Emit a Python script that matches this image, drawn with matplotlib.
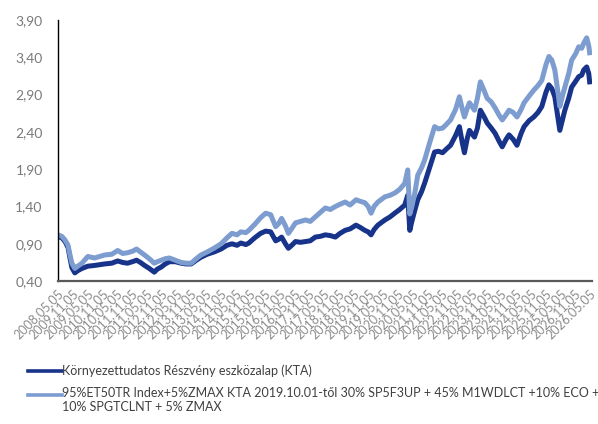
import matplotlib.pyplot as plt
from matplotlib.lines import Line2D

plt.rcParams["font.family"] = ["Lato", "DejaVu Sans"]

# decimal year of each reading, fund (dark) and benchmark (light)
years = [
    2008.34, 2008.47, 2008.58, 2008.68, 2008.74, 2008.81, 2008.91, 2009.01, 2009.15, 2009.35,
    2009.58, 2009.92, 2010.16, 2010.36, 2010.53, 2010.69, 2010.86, 2011.00, 2011.13, 2011.27,
    2011.43, 2011.60, 2011.70, 2011.84, 2011.97, 2012.11, 2012.31, 2012.51, 2012.68, 2012.85,
    2013.02, 2013.18, 2013.39, 2013.62, 2013.86, 2014.06, 2014.23, 2014.40, 2014.53, 2014.70,
    2014.80, 2015.00, 2015.20, 2015.37, 2015.54, 2015.71, 2015.81, 2015.91, 2016.04, 2016.14,
    2016.28, 2016.38, 2016.55, 2016.72, 2016.88, 2017.05, 2017.22, 2017.39, 2017.56, 2017.73,
    2017.89, 2018.06, 2018.23, 2018.43, 2018.57, 2018.73, 2018.84, 2018.94, 2019.04, 2019.17,
    2019.41, 2019.58, 2019.74, 2019.91, 2020.08, 2020.18, 2020.25, 2020.32, 2020.42, 2020.52,
    2020.65, 2020.75, 2020.92, 2021.09, 2021.22, 2021.36, 2021.49, 2021.63, 2021.80, 2021.93,
    2022.03, 2022.10, 2022.20, 2022.27, 2022.44, 2022.54, 2022.64, 2022.77, 2022.87, 2023.01,
    2023.14, 2023.28, 2023.38, 2023.51, 2023.61, 2023.75, 2023.88, 2024.02, 2024.12, 2024.29,
    2024.45, 2024.59, 2024.72, 2024.86, 2024.96, 2025.06, 2025.16, 2025.26, 2025.33, 2025.43,
    2025.50, 2025.63, 2025.73, 2025.87, 2025.97, 2026.07, 2026.14, 2026.24, 2026.31, 2026.34,
]

fund = [
    1.00, 0.98, 0.93, 0.85, 0.72, 0.58, 0.51, 0.54, 0.57, 0.60,
    0.61, 0.63, 0.64, 0.67, 0.65, 0.64, 0.66, 0.68, 0.65, 0.61,
    0.57, 0.52, 0.56, 0.59, 0.63, 0.66, 0.66, 0.64, 0.63, 0.63,
    0.68, 0.72, 0.76, 0.79, 0.83, 0.88, 0.90, 0.88, 0.91, 0.89,
    0.91, 0.98, 1.04, 1.07, 1.06, 0.94, 0.96, 0.99, 0.90, 0.84,
    0.89, 0.93, 0.92, 0.93, 0.94, 0.99, 1.00, 1.02, 1.01, 0.99,
    1.04, 1.08, 1.10, 1.15, 1.12, 1.08, 1.06, 1.02, 1.09, 1.15,
    1.22, 1.26, 1.31, 1.36, 1.42, 1.55, 1.08, 1.20, 1.35, 1.49,
    1.60, 1.71, 1.92, 2.13, 2.14, 2.12, 2.17, 2.22, 2.35, 2.47,
    2.25, 2.12, 2.32, 2.42, 2.33, 2.45, 2.69, 2.60, 2.52, 2.45,
    2.38, 2.27, 2.20, 2.30, 2.36, 2.30, 2.22, 2.38, 2.47, 2.55,
    2.60, 2.66, 2.74, 2.93, 3.03, 2.98, 2.87, 2.60, 2.42, 2.58,
    2.69, 2.85, 3.00, 3.08, 3.14, 3.16, 3.23, 3.27, 3.18, 3.07,
]

benchmark = [
    1.02, 1.00, 0.95, 0.88, 0.76, 0.64, 0.57, 0.60, 0.64, 0.73,
    0.71, 0.75, 0.76, 0.81, 0.77, 0.78, 0.80, 0.83, 0.79, 0.75,
    0.70, 0.64, 0.66, 0.68, 0.70, 0.71, 0.68, 0.65, 0.64, 0.64,
    0.70, 0.75, 0.79, 0.84, 0.90, 0.98, 1.04, 1.02, 1.06, 1.05,
    1.08, 1.16, 1.25, 1.31, 1.29, 1.13, 1.17, 1.24, 1.14, 1.04,
    1.12, 1.18, 1.20, 1.22, 1.20, 1.26, 1.32, 1.38, 1.36, 1.40,
    1.43, 1.46, 1.42, 1.49, 1.47, 1.45, 1.40, 1.31, 1.40, 1.46,
    1.53, 1.55, 1.58, 1.63, 1.71, 1.89, 1.30, 1.40, 1.58, 1.82,
    1.92, 2.02, 2.25, 2.47, 2.44, 2.45, 2.50, 2.56, 2.70, 2.87,
    2.70, 2.60, 2.72, 2.79, 2.69, 2.85, 3.07, 2.95, 2.85, 2.80,
    2.72, 2.62, 2.56, 2.63, 2.69, 2.66, 2.60, 2.70, 2.79, 2.88,
    2.96, 3.02, 3.09, 3.30, 3.41, 3.36, 3.23, 2.95, 2.74, 2.90,
    3.00, 3.18, 3.36, 3.45, 3.54, 3.52, 3.59, 3.66, 3.55, 3.46,
]

fund_label = "Környezettudatos Részvény eszközalap (KTA)"
bench_label = ("95%ET50TR Index+5%ZMAX KTA 2019.10.01-től 30% SP5F3UP + 45% M1WDLCT +10% ECO +\n"
               "10% SPGTCLNT + 5% ZMAX")

tick_years = [2008.34 + 0.5 * k for k in range(37)]
tick_labels = []
for k in range(37):
    y = 2008 + (k + 1) // 2
    m = "05" if k % 2 == 0 else "11"
    tick_labels.append(f"{y}.{m}.05")

y_ticks = [0.40, 0.90, 1.40, 1.90, 2.40, 2.90, 3.40, 3.90]

dark = "#17338a"
light = "#7d9ccf"

fig = plt.figure(figsize=(5.98, 4.24), dpi=100)
ax = fig.add_axes([0.097, 0.337, 0.893, 0.616])

ax.plot(years, fund, color=dark, lw=3.6, solid_joinstyle="round")
ax.plot(years, benchmark, color=light, lw=3.6, solid_joinstyle="round")

ax.set_xlim(2008.34, 2026.42)
ax.set_ylim(0.40, 3.90)
ax.set_yticks(y_ticks)
ax.set_yticklabels([f"{v:.2f}".replace(".", ",") for v in y_ticks])
ax.set_xticks(tick_years)
ax.set_xticklabels(tick_labels, rotation=45, ha="right", rotation_mode="anchor")

ax.tick_params(axis="y", length=0, pad=11, labelsize=10, labelcolor="#7a7a7a")
ax.tick_params(axis="x", length=0, pad=5, labelsize=9, labelcolor="#8c8c8c")

for side in ["top", "right"]:
    ax.spines[side].set_visible(False)
ax.spines["left"].set_color("black")
ax.spines["left"].set_linewidth(1.0)
ax.spines["bottom"].set_color("#595959")
ax.spines["bottom"].set_linewidth(1.6)

# legend below the chart
fig.add_artist(Line2D([28 / 598, 62 / 598], [1 - 371 / 424] * 2, color=dark, lw=2.6))
fig.text(62 / 598, 1 - 371 / 424, fund_label, fontsize=9, color="#404040", va="center")
fig.add_artist(Line2D([28 / 598, 62 / 598], [1 - 395 / 424] * 2, color=light, lw=2.6))
fig.text(62 / 598, 1 - 395 / 424 + 0.018, bench_label, fontsize=9, color="#404040",
         va="top", linespacing=1.15)

fig.savefig("out.png", dpi=100)
